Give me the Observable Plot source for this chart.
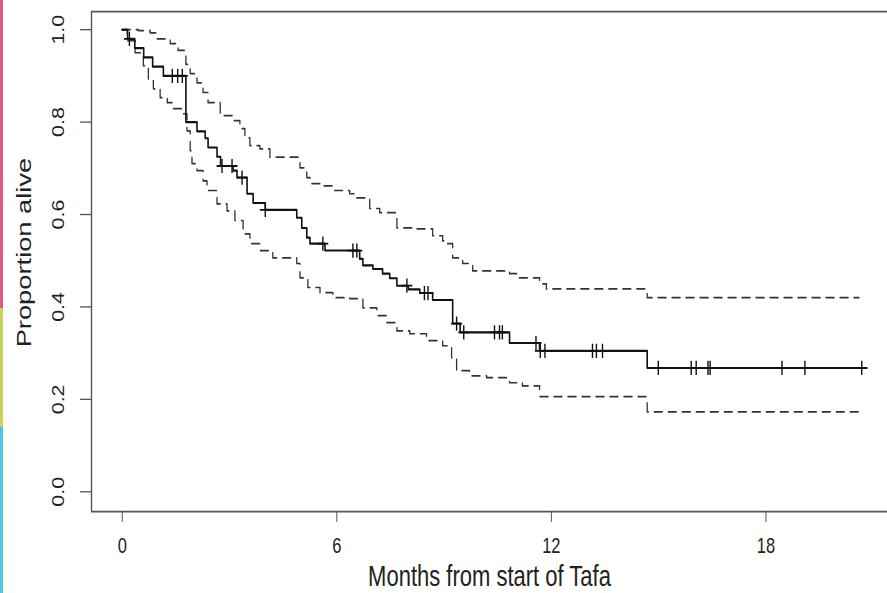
<!DOCTYPE html>
<html>
<head>
<meta charset="utf-8">
<script src="https://cdn.jsdelivr.net/npm/d3@7"></script>
<script src="https://cdn.jsdelivr.net/npm/@observablehq/plot@0.6"></script>
<style>
  html, body { margin: 0; padding: 0; background: #fff; overflow: hidden; }
  #wrap { position: relative; width: 887px; height: 593px; }
  #stripe { position: absolute; left: 0; top: 0; width: 3px; height: 593px;
    background: linear-gradient(#e8587a 0 52%, #c9d35a 52% 72%, #4cc9e2 72% 100%); }
  svg text { font-family: "Liberation Sans", Arial, Helvetica, sans-serif; }
</style>
</head>
<body>
<div id="wrap"><div id="stripe"></div><div id="chart"></div></div>
<script>
// ---- data ----
const xTicks = [0, 6, 12, 18];
const yTicks = [0.0, 0.2, 0.4, 0.6, 0.8, 1.0];
const xLabel = "Months from start of Tafa";
const yLabel = "Proportion alive";

// Kaplan-Meier estimate (step-after points)
const survT = [0, 0.15, 0.35, 0.6, 0.85, 1.15, 1.78, 2.09, 2.32, 2.40, 2.65, 2.75, 3.10, 3.21, 3.49, 3.66, 4.00, 4.88, 5.02, 5.16, 5.25, 5.67, 6.64, 6.73, 7.01, 7.28, 7.48, 7.68, 8.00, 8.32, 8.68, 9.24, 9.45, 10.83, 11.67, 14.68, 20.82];
const survS = [1.0, 0.98, 0.96, 0.94, 0.92, 0.90, 0.80, 0.78, 0.765, 0.745, 0.725, 0.705, 0.695, 0.68, 0.645, 0.625, 0.61, 0.593, 0.571, 0.55, 0.537, 0.522, 0.504, 0.49, 0.482, 0.472, 0.462, 0.446, 0.438, 0.43, 0.415, 0.364, 0.345, 0.322, 0.305, 0.268, 0.268];

// censoring times
const censT = [0.2, 1.40, 1.55, 1.68, 2.79, 3.07, 3.35, 4.00, 5.61, 6.45, 6.56, 7.96, 8.45, 8.55, 9.35, 9.55, 10.41, 10.55, 10.63, 11.57, 11.69, 11.82, 13.15, 13.26, 13.43, 14.99, 15.91, 16.05, 16.38, 16.44, 18.45, 19.09, 20.68];

// upper 95% confidence limit
const upT = [0, 0.45, 0.78, 0.98, 1.34, 1.56, 1.78, 1.90, 2.09, 2.26, 2.40, 2.74, 3.10, 3.29, 3.43, 3.57, 3.85, 4.13, 4.97, 5.16, 5.25, 5.53, 5.89, 6.36, 6.56, 6.92, 7.20, 7.68, 8.12, 8.68, 8.96, 9.10, 9.24, 9.52, 9.80, 10.83, 11.10, 11.67, 11.86, 14.68, 20.60];
const upV = [1.0, 0.998, 0.993, 0.98, 0.97, 0.955, 0.925, 0.905, 0.885, 0.864, 0.842, 0.814, 0.803, 0.786, 0.766, 0.749, 0.742, 0.724, 0.701, 0.68, 0.667, 0.662, 0.652, 0.645, 0.636, 0.613, 0.604, 0.571, 0.569, 0.554, 0.543, 0.537, 0.506, 0.494, 0.478, 0.472, 0.463, 0.45, 0.439, 0.42, 0.42];

// lower 95% confidence limit
const loT = [0, 0.14, 0.36, 0.59, 0.73, 0.87, 1.06, 1.26, 1.42, 1.67, 1.81, 1.90, 1.95, 2.09, 2.26, 2.37, 2.65, 2.93, 3.15, 3.38, 3.57, 3.85, 4.21, 4.88, 4.97, 5.19, 5.53, 5.89, 6.36, 6.73, 7.12, 7.40, 7.68, 8.04, 8.51, 8.96, 9.21, 9.35, 9.71, 10.19, 10.83, 11.19, 11.67, 14.68, 20.60];
const loV = [1.0, 0.976, 0.95, 0.922, 0.89, 0.872, 0.853, 0.842, 0.829, 0.818, 0.781, 0.738, 0.71, 0.695, 0.673, 0.652, 0.623, 0.608, 0.587, 0.558, 0.537, 0.522, 0.506, 0.494, 0.463, 0.442, 0.431, 0.42, 0.418, 0.398, 0.381, 0.366, 0.348, 0.342, 0.327, 0.316, 0.29, 0.262, 0.251, 0.247, 0.236, 0.229, 0.206, 0.173, 0.173];

// ---- build tables ----
const surv = survT.map((t, i) => ({t, v: survS[i]}));
const upper = upT.map((t, i) => ({t, v: upV[i]}));
const lower = loT.map((t, i) => ({t, v: loV[i]}));
function sAt(t) { let v = survS[0]; for (let i = 0; i < survT.length; i++) if (survT[i] <= t) v = survS[i]; return v; }
const cens = censT.map(t => ({t, v: sAt(t)}));

// vertical stretch (the reference image is stretched vertically)
const S = 1.3;
const W = 887, H = 593 / S;
const xDomain = [-0.86, 21.4];
const yDomain = [-0.043, 1.039];

const plot = Plot.plot({
  width: W, height: H,
  marginLeft: 91, marginRight: 0, marginTop: 11 / S, marginBottom: 82 / S,
  x: {domain: xDomain},
  y: {domain: yDomain},
  style: {background: "white", color: "#222"},
  marks: [
    Plot.ruleY([yDomain[0], yDomain[1]], {stroke: "#555", strokeWidth: 1.4}),
    Plot.ruleX([xDomain[0]], {stroke: "#555", strokeWidth: 1.4}),
    Plot.axisX({ticks: xTicks, tickSize: 11 / S, tickPadding: 12, fontSize: 16.5, label: null, stroke: "#555"}),
    Plot.axisY({ticks: yTicks, tickSize: 11, tickFormat: () => "", label: null, stroke: "#555"}),
    Plot.text(yTicks, {frameAnchor: "left", y: d => d, dx: -33, text: d => d.toFixed(1), rotate: -90, fontSize: 16.5, fill: "#222", textAnchor: "middle", lineAnchor: "middle"}),
    Plot.text([xLabel], {frameAnchor: "bottom", dy: 50.5, fontSize: 22, fill: "#222", textAnchor: "middle", lineAnchor: "middle"}),
    Plot.text([yLabel], {frameAnchor: "left", dx: -67, dy: -7, rotate: -90, fontSize: 21, fill: "#222", textAnchor: "middle", lineAnchor: "middle"}),
    Plot.line(upper, {x: "t", y: "v", curve: "step-after", stroke: "#333", strokeWidth: 1.3, strokeDasharray: "8,6"}),
    Plot.line(lower, {x: "t", y: "v", curve: "step-after", stroke: "#333", strokeWidth: 1.3, strokeDasharray: "8,6"}),
    Plot.line(surv, {x: "t", y: "v", curve: "step-after", stroke: "#111", strokeWidth: 1.6}),
    Plot.dot(cens, {x: "t", y: "v", symbol: "plus", r: 3.6, stroke: "#111", strokeWidth: 1.4})
  ]
});
plot.setAttribute("viewBox", `0 0 ${W} ${H}`);
plot.setAttribute("preserveAspectRatio", "none");
plot.setAttribute("height", 593);
plot.style.width = "887px";
plot.style.height = "593px";
plot.style.maxWidth = "none";
plot.style.display = "block";
document.getElementById("chart").appendChild(plot);
</script>
</body>
</html>
